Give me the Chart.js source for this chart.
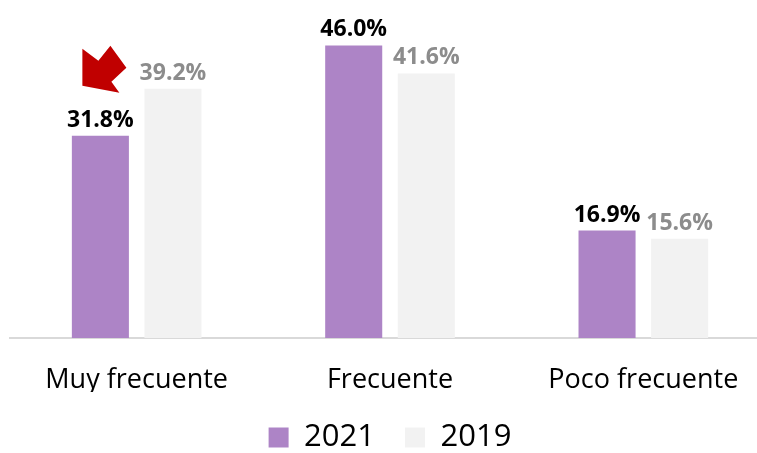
<!DOCTYPE html>
<html>
<head>
<meta charset="utf-8">
<script src="https://cdn.jsdelivr.net/npm/chart.js@4"></script>
<style>
  html, body { margin: 0; padding: 0; background: #fff; overflow: hidden; }
  #wrap { width: 770px; height: 453px; }
</style>
</head>
<body>
<div id="wrap"><canvas id="freqChart" width="770" height="453"></canvas></div>
<script>
// chart data
const categories = ['Muy frecuente', 'Frecuente', 'Poco frecuente'];
const seriesNames = ['2021', '2019'];
const values2021 = [31.8, 46.0, 16.9];
const values2019 = [39.2, 41.6, 15.6];

const purple = '#AD84C6';
const lightGray = '#F2F2F2';

// draws the percentage labels above each bar
const barLabels = {
    id: 'barLabels',
    afterDatasetsDraw(chart) {
        const ctx = chart.ctx;
        ctx.save();
        ctx.font = 'bold 23px "Open Sans", sans-serif';
        ctx.textAlign = 'center';
        ctx.textBaseline = 'bottom';
        chart.data.datasets.forEach((ds, i) => {
            const meta = chart.getDatasetMeta(i);
            ctx.fillStyle = i === 0 ? '#000000' : '#8C8C8C';
            meta.data.forEach((bar, j) => {
                ctx.fillText(ds.data[j].toFixed(1) + '%', bar.x, bar.y - 4);
            });
        });
        ctx.restore();
    }
};

// red arrow pointing at the first 2021 bar
const redArrow = {
    id: 'redArrow',
    afterDatasetsDraw(chart) {
        const bar = chart.getDatasetMeta(0).data[0];
        const x0 = bar.x, y0 = bar.y;
        const pts = [[-18, -87], [-2, -75], [10, -90], [26, -68], [11, -54], [19, -43], [-18, -50]];
        const ctx = chart.ctx;
        ctx.save();
        ctx.fillStyle = '#C00000';
        ctx.beginPath();
        pts.forEach((p, k) => {
            if (k === 0) ctx.moveTo(x0 + p[0], y0 + p[1]);
            else ctx.lineTo(x0 + p[0], y0 + p[1]);
        });
        ctx.closePath();
        ctx.fill();
        ctx.restore();
    }
};

const ctx = document.getElementById('freqChart').getContext('2d');
const freqChart = new Chart(ctx, {
    type: 'bar',
    data: {
        labels: categories,
        datasets: [{
            label: seriesNames[0],
            data: values2021,
            backgroundColor: purple,
            categoryPercentage: 0.573,
            barPercentage: 0.786
        }, {
            label: seriesNames[1],
            data: values2019,
            backgroundColor: lightGray,
            categoryPercentage: 0.573,
            barPercentage: 0.786
        }]
    },
    options: {
        responsive: false,
        animation: false,
        layout: {
            padding: { left: 10, right: 0, top: 20, bottom: -10 }
        },
        scales: {
            x: {
                grid: { display: false },
                border: { color: '#D9D9D9', width: 2 },
                ticks: {
                    color: '#000000',
                    padding: 18,
                    font: { family: '"Open Sans", sans-serif', size: 27 }
                },
                afterFit: function (scale) {
                    scale.height = 54; // leave room before the legend
                }
            },
            y: {
                display: false,
                beginAtZero: true,
                max: 50
            }
        },
        plugins: {
            legend: {
                position: 'bottom',
                labels: {
                    boxWidth: 20,
                    boxHeight: 20,
                    padding: 30,
                    color: '#000000',
                    font: { family: '"Open Sans", sans-serif', size: 31 }
                }
            },
            tooltip: { enabled: false }
        }
    },
    plugins: [barLabels, redArrow]
});
</script>
</body>
</html>
